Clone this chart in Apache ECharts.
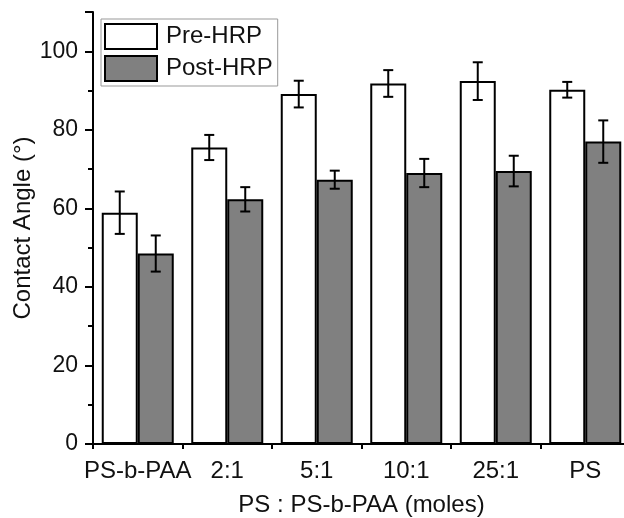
<!DOCTYPE html>
<html>
<head>
<meta charset="utf-8">
<script src="https://cdn.jsdelivr.net/npm/echarts@6/dist/echarts.min.js"></script>
<style>html,body{margin:0;padding:0;background:#fff;}#c{width:624px;height:518px;}</style>
</head>
<body>
<div id="c"></div>
<script>
var categories = ['PS-b-PAA', '2:1', '5:1', '10:1', '25:1', 'PS'];
var preHRP = [58.9, 75.5, 89.1, 91.8, 92.4, 90.2];
var preErr = [5.4, 3.2, 3.4, 3.4, 4.8, 2.0];
var postHRP = [48.5, 62.3, 67.3, 69.0, 69.5, 77.0];
var postErr = [4.6, 3.1, 2.3, 3.6, 3.9, 5.4];
var yTicks = [0, 20, 40, 60, 80, 100];

var FONT = 'Liberation Sans';
var BAR_W = 36;

function errData(vals, errs) {
  return vals.map(function (v, i) { return [i, v - errs[i], v + errs[i]]; });
}
function renderErr(sign) {
  return function (params, api) {
    var x = api.value(0);
    var lo = api.coord([x, api.value(1)]);
    var hi = api.coord([x, api.value(2)]);
    var cx = lo[0] + sign * BAR_W / 2;
    var cap = 5;
    var st = { stroke: '#000', lineWidth: 2 };
    return {
      type: 'group',
      children: [
        { type: 'line', shape: { x1: cx, y1: lo[1], x2: cx, y2: hi[1] }, style: st },
        { type: 'line', shape: { x1: cx - cap, y1: lo[1], x2: cx + cap, y2: lo[1] }, style: st },
        { type: 'line', shape: { x1: cx - cap, y1: hi[1], x2: cx + cap, y2: hi[1] }, style: st }
      ]
    };
  };
}

var chart = echarts.init(document.getElementById('c'));
chart.setOption({
  animation: false,
  backgroundColor: '#fff',
  textStyle: { fontFamily: FONT },
  grid: { left: 93, top: 12, width: 537, height: 432, outerBoundsMode: 'none', containLabel: false },
  legend: {
    orient: 'vertical',
    left: 101, top: 19,
    borderColor: '#999', borderWidth: 1,
    padding: [4, 5, 4, 3],
    itemWidth: 52, itemHeight: 25, itemGap: 5,
    textStyle: { fontSize: 24, lineHeight: 26, color: '#111', fontFamily: FONT, padding: [0, 0, 0, 4] },
    data: [
      { name: 'Pre-HRP', icon: 'rect', itemStyle: { color: '#fff', borderColor: '#000', borderWidth: 2 } },
      { name: 'Post-HRP', icon: 'rect', itemStyle: { color: '#808080', borderColor: '#000', borderWidth: 2 } }
    ]
  },
  xAxis: [{
    type: 'category', data: categories,
    name: 'PS : PS-b-PAA (moles)', nameLocation: 'middle', nameGap: 49, nameMoveOverlap: false,
    nameTextStyle: { fontSize: 24, color: '#111', fontFamily: FONT },
    axisLine: { lineStyle: { color: '#000', width: 2 } },
    axisTick: { alignWithLabel: true, length: 8, lineStyle: { color: '#000', width: 2 } },
    axisLabel: { interval: 0, fontSize: 24, color: '#111', margin: 15, fontFamily: FONT },
    splitLine: { show: false }
  }, {
    type: 'category', data: categories, position: 'bottom', gridIndex: 0,
    axisLine: { show: false },
    axisTick: { show: true, interval: 0, length: 5, lineStyle: { color: '#000', width: 2 } },
    axisLabel: { show: false },
    splitLine: { show: false }
  }],
  yAxis: {
    type: 'value', min: 0, max: 110, interval: 20,
    name: 'Contact Angle (°)', nameLocation: 'middle', nameGap: 58, nameMoveOverlap: false,
    nameTextStyle: { fontSize: 24, color: '#111', fontFamily: FONT },
    axisLine: { show: true, lineStyle: { color: '#000', width: 2 } },
    axisTick: { show: true, length: 8, lineStyle: { color: '#000', width: 2 } },
    minorTick: { show: true, splitNumber: 2, length: 5, lineStyle: { color: '#000', width: 2 } },
    axisLabel: {
      fontSize: 23, color: '#111', margin: 15, fontFamily: FONT,
      formatter: function (v) { return yTicks.indexOf(v) >= 0 ? String(v) : ''; }
    },
    splitLine: { show: false }
  },
  series: [
    {
      name: 'Pre-HRP', type: 'bar', data: preHRP, barWidth: BAR_W, barGap: '0%',
      itemStyle: { color: '#fff', borderColor: '#000', borderWidth: 2 }
    },
    {
      name: 'Post-HRP', type: 'bar', data: postHRP, barWidth: BAR_W, barGap: '0%',
      itemStyle: { color: '#808080', borderColor: '#000', borderWidth: 2 }
    },
    {
      type: 'custom', data: errData(preHRP, preErr), renderItem: renderErr(-1), z: 10,
      encode: { x: 0, y: [1, 2] }
    },
    {
      type: 'custom', data: errData(postHRP, postErr), renderItem: renderErr(1), z: 10,
      encode: { x: 0, y: [1, 2] }
    }
  ]
});
</script>
</body>
</html>
